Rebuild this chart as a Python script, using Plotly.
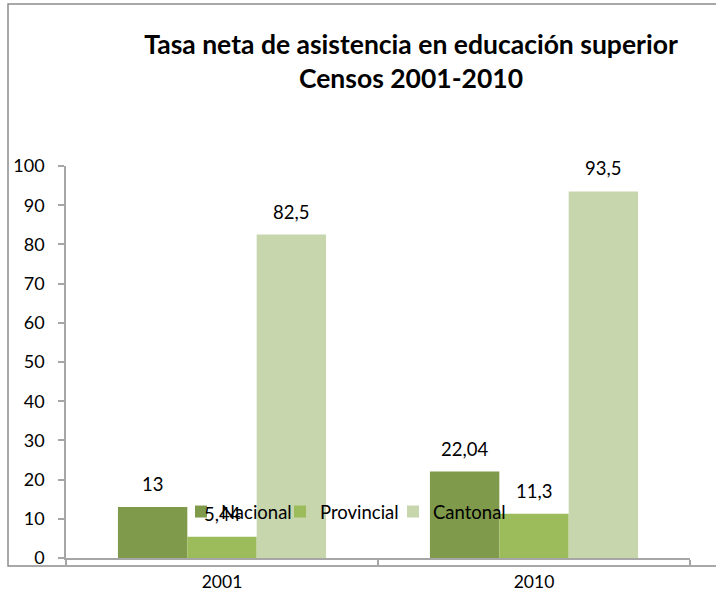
import plotly.graph_objects as go

# Census years and net attendance rates (%) in higher education
years = ["2001", "2010"]
nacional = [13, 22.04]
provincial = [5.44, 11.3]
cantonal = [82.5, 93.5]

series_names = ["Nacional", "Provincial", "Cantonal"]
series_values = [nacional, provincial, cantonal]
series_colors = ["#7f9a4a", "#9cbb5a", "#c7d6ac"]
legend_widths = [54, 68, 80]

W, H = 716, 592
L, R, T, B = 66, 26, 166, 34
plot_w = W - L - R
plot_h = H - T - B

FONT = "Lato"

fig = go.Figure()
for name, vals, col, lw in zip(series_names, series_values, series_colors, legend_widths):
    fig.add_trace(go.Bar(
        x=years, y=vals, name=name, legendwidth=lw,
        marker=dict(color=col, line=dict(width=0)),
    ))


def fmt(v):
    s = f"{v:g}"
    return s.replace(".", ",")


# value labels above each bar (decimal comma); x given as category index
group_frac = 1 - 0.333
bar_px = plot_w / len(years) * group_frac / len(series_names)
annotations = []
for i, vals in enumerate(series_values):
    shift = (i - (len(series_values) - 1) / 2) * bar_px
    for k, v in enumerate(vals):
        annotations.append(dict(
            x=k, y=v, xref="x", yref="y", text=fmt(v), showarrow=False,
            xshift=shift, yshift=10, yanchor="bottom",
            font=dict(family=FONT, size=18.5, color="#000000"),
        ))

fig.update_layout(
    width=W, height=H,
    margin=dict(l=L, r=R, t=T, b=B, pad=0, autoexpand=False),
    paper_bgcolor="white", plot_bgcolor="white",
    barmode="group", bargap=0.333, bargroupgap=0,
    font=dict(family=FONT, size=18, color="#000000"),
    title=dict(
        text="<b>Tasa neta de asistencia en educación superior<br>Censos 2001-2010</b>",
        xref="paper", x=(411 - L) / plot_w, xanchor="center",
        yref="container", y=1 - 54 / H, yanchor="middle",
        font=dict(family=FONT, size=26.5, color="#000000"),
    ),
    xaxis=dict(
        type="category", range=[-0.5, len(years) - 0.5], showgrid=False, zeroline=False,
        showline=True, linecolor="#a6a6a6", linewidth=2,
        ticks="outside", tickson="boundaries", ticklen=7, tickcolor="#a6a6a6", tickwidth=1.5,
        tickangle=0, ticklabelstandoff=7,
        tickfont=dict(family=FONT, size=17.5, color="#000000"),
    ),
    yaxis=dict(
        range=[0, 100], dtick=10, showgrid=False, zeroline=False,
        showline=True, linecolor="#a6a6a6", linewidth=1.5,
        ticks="outside", ticklen=6, tickcolor="#a6a6a6", tickwidth=1.5,
        ticklabelstandoff=10,
        tickfont=dict(family=FONT, size=18, color="#000000"),
    ),
    legend=dict(
        orientation="h", x=(181 - L) / plot_w, xanchor="left",
        y=(558 - 512) / plot_h, yanchor="middle",
        bgcolor="rgba(0,0,0,0)", itemwidth=30,
        font=dict(family=FONT, size=18.5, color="#000000"),
    ),
    annotations=annotations,
    shapes=[dict(
        type="rect", xref="paper", yref="paper",
        x0=(8 - L) / plot_w, x1=(730 - L) / plot_w,
        y0=(H - 600) / plot_h, y1=(H - B - 4) / plot_h,
        line=dict(color="#8c8c8c", width=1.5), fillcolor="rgba(0,0,0,0)",
        layer="below",
    )],
)

fig.write_html("out.html")
